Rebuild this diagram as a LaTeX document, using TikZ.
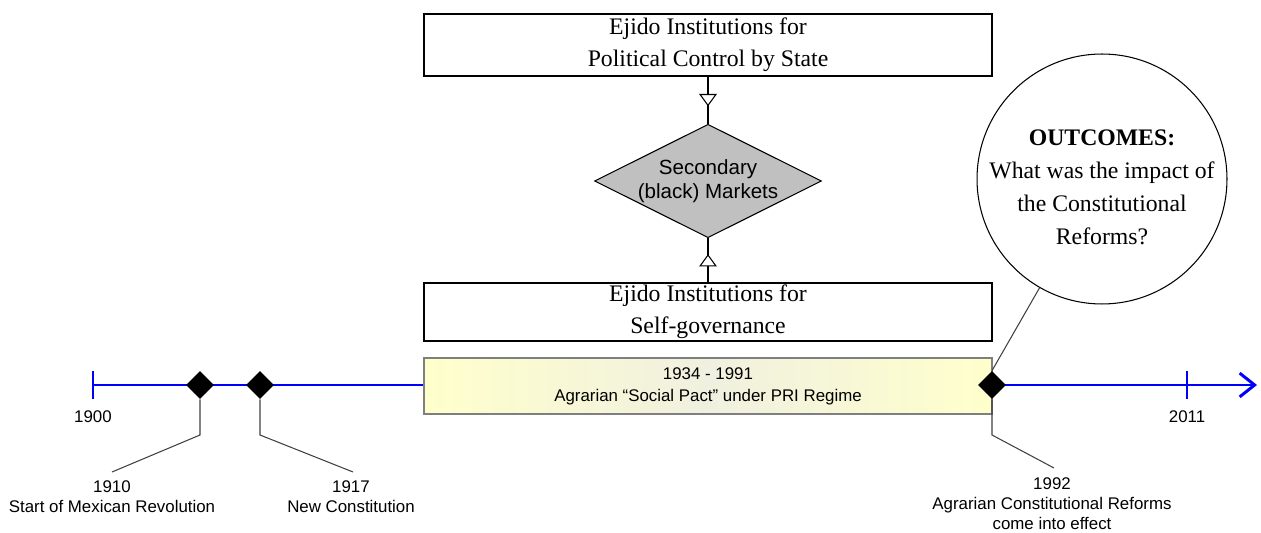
\documentclass[tikz,border=0pt]{standalone}
\usepackage{fontspec}
\setmainfont{Liberation Serif}
\setsansfont{Liberation Sans}
\usetikzlibrary{shapes.geometric,arrows.meta,decorations.markings}
\definecolor{tlblue}{HTML}{0000FF}
\definecolor{boxgray}{HTML}{C0C0C0}
\definecolor{calloutgray}{HTML}{404040}
\definecolor{yelA}{HTML}{FFFFCC}
\definecolor{yelB}{HTML}{F0F0E0}
\definecolor{yelborder}{HTML}{7F7F7F}
\begin{document}
\begin{tikzpicture}[x=0.02cm,y=-0.02cm,
  ejbox/.style={draw=black, line width=0.7pt, fill=white, minimum width=11.36cm,
    align=center, inner sep=0pt, font=\fontsize{13.5}{18.2}\selectfont},
  secdiam/.style={diamond, aspect=2, draw=black, line width=0.6pt, fill=boxgray,
    minimum width=4.48cm, minimum height=2.22cm, inner sep=0pt, align=center,
    font=\sffamily\fontsize{11.7}{13.7}\selectfont},
  periodbox/.style={draw=yelborder, line width=1pt, left color=yelA, right color=yelA,
    middle color=yelB, minimum width=11.36cm, minimum height=1.12cm, align=center,
    inner sep=0pt, font=\sffamily\fontsize{9.6}{12.5}\selectfont},
  event/.style={diamond, fill=black, minimum width=0.56cm, minimum height=0.56cm, inner sep=0pt},
  evlabel/.style={align=center, anchor=north, inner sep=0pt,
    font=\sffamily\fontsize{9.6}{11.4}\selectfont},
  yearlabel/.style={inner sep=0pt, font=\sffamily\fontsize{9.6}{11.4}\selectfont},
  callout/.style={draw=calloutgray, line width=0.6pt},
  timeline/.style={draw=tlblue, line width=1.7pt, -{Straight Barb[length=8.5pt,width=13.5pt,line width=1.7pt]}},
  tick/.style={draw=tlblue, line width=1.1pt},
  bubble/.style={circle, draw=black, line width=0.6pt, fill=white, minimum size=5cm, inner sep=0pt},
  midtri/.style={draw=black, line width=0.6pt, postaction={decorate},
    decoration={markings, mark=at position #1 with {\arrow{Triangle[length=7pt,width=10pt,fill=white,line width=0.6pt]}}}}
]
\useasboundingbox (0,0) rectangle (1261,533);

% timeline
\coordinate (tstart) at (93,385);
\coordinate (tend) at (1257,385);
\draw[timeline] (tstart) -- (tend);
\draw[tick] (93,371) -- (93,399);
\draw[tick] (1187,371) -- (1187,399);
\node[yearlabel] (y1900) at (93,417) {1900};
\node[yearlabel] (y2011) at (1187,417) {2011};

% period box
\node[periodbox] (pact) at (708,386) {1934 - 1991\\Agrarian “Social Pact” under PRI Regime};

% boxes and diamond
\node[ejbox, minimum height=1.24cm] (topbox) at (708,45) {Ejido Institutions for\\Political Control by State};
\node[ejbox, minimum height=1.16cm] (botbox) at (708,312) {Ejido Institutions for\\Self-governance};
\node[secdiam] (sec) at (708,181) {Secondary\\(black) Markets};
\draw[midtri=0.63] (topbox.south) -- (sec.north);
\draw[midtri=0.64] (botbox.north) -- (sec.south);

% events
\node[event] (d1910) at (200,385) {};
\node[event] (d1917) at (260,385) {};
\node[event] (d1992) at (992,385) {};

\coordinate (c1910) at (112,472);
\coordinate (c1917) at (353,472);
\coordinate (c1992) at (1054,468);
\draw[callout] (d1910.south) -- (200,435) -- (c1910);
\draw[callout] (d1917.south) -- (260,435) -- (c1917);
\draw[callout] (d1992.south) -- (992,435) -- (c1992);

\node[evlabel] (l1910) at (112,480) {1910\\Start of Mexican Revolution};
\node[evlabel] (l1917) at (351,480) {1917\\New Constitution};
\node[evlabel] (l1992) at (1052,477) {1992\\Agrarian Constitutional Reforms\\come into effect};

% outcomes bubble
\node[bubble] (outc) at (1102,179) {};
\node[align=center, inner sep=0pt, font=\fontsize{13.5}{18.8}\selectfont] (outctext) at (1102,187)
  {\textbf{OUTCOMES:}\\What was the impact of\\the Constitutional\\Reforms?};
\draw[callout] (d1992.north) -- (outc);
\end{tikzpicture}
\end{document}
